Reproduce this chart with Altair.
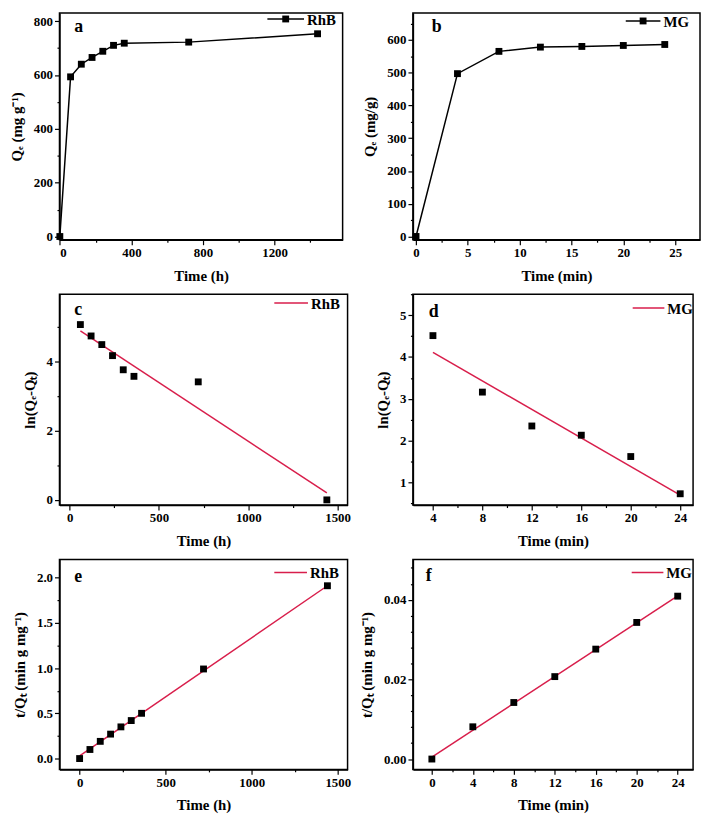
import altair as alt
import pandas as pd
import numpy as np

FONT = "Liberation Serif"
RED = "#d81e4b"

# ---------------- data ----------------
a_t = [0, 60, 120, 180, 240, 300, 360, 720, 1440]
a_q = [0, 593, 640, 665, 688, 710, 718, 722, 753]

b_t = [0, 4, 8, 12, 16, 20, 24]
b_q = [0, 497, 565, 578, 580, 583, 586]

c_t = [60, 120, 180, 240, 300, 360, 720, 1440]
c_v = [5.08, 4.75, 4.50, 4.18, 3.77, 3.58, 3.42, 0.0]
c_fit_t = [60, 1440]
c_fit_v = [4.90, 0.20]

d_t = [4, 8, 12, 16, 20, 24]
d_v = [4.51, 3.16, 2.35, 2.13, 1.62, 0.73]
d_fit_t = [4, 24]
d_fit_v = [4.11, 0.70]

e_t = [0, 60, 120, 180, 240, 300, 360, 720, 1440]
e_v = [0.0, 0.10, 0.19, 0.27, 0.35, 0.42, 0.50, 0.99, 1.91]
e_fit_t = [0, 1440]
e_fit_v = [0.03, 1.91]

f_t = [0, 4, 8, 12, 16, 20, 24]
f_v = [0.0, 0.0081, 0.0142, 0.0207, 0.0276, 0.0343, 0.0409]
f_fit_t = [0, 24]
f_fit_v = [0.0005, 0.0410]

labels_panel = ["a", "b", "c", "d", "e", "f"]
series_names = ["RhB", "MG", "RhB", "MG", "RhB", "MG"]


def ticks(lo, hi, major, minor, fmt, title, **kw):
    n0 = int(np.ceil(lo / minor - 1e-9))
    n1 = int(np.floor(hi / minor + 1e-9))
    vals = [round(i * minor, 6) for i in range(n0, n1 + 1)]
    test = f"abs(datum.value/{major} - round(datum.value/{major})) < 1e-6"
    return alt.Axis(
        title=title,
        values=vals,
        format=fmt,
        labelExpr=f"({test}) ? datum.label : ''",
        tickSize={"condition": {"test": test, "value": 5}, "value": 2.5},
        **kw,
    )


def one():
    return pd.DataFrame({"k": [0]})


def panel(letter, name, xs, ys, xdom, ydom, xax, yax, w, h,
          fit_x=None, fit_y=None, connect=False,
          letter_pos=(15, 14), leg=(215, 250, 8)):
    df = pd.DataFrame({"x": xs, "y": ys})
    X = alt.X("x:Q", scale=alt.Scale(domain=xdom, nice=False, zero=False), axis=xax)
    Y = alt.Y("y:Q", scale=alt.Scale(domain=ydom, nice=False, zero=False), axis=yax)
    layers = []
    if connect:
        layers.append(alt.Chart(df).mark_line(color="black", strokeWidth=1.5).encode(x=X, y=Y))
    else:
        fdf = pd.DataFrame({"x": fit_x, "y": fit_y})
        layers.append(alt.Chart(fdf).mark_line(color=RED, strokeWidth=1.5).encode(x=X, y=Y))
    layers.append(alt.Chart(df).mark_square(color="black", size=48, opacity=1).encode(x=X, y=Y))

    lx1, lx2, ly = leg
    lc = "black" if connect else RED
    layers.append(alt.Chart(one()).mark_rule(color=lc, strokeWidth=1.5).encode(
        x=alt.value(lx1), x2=alt.value(lx2), y=alt.value(ly)))
    if connect:
        layers.append(alt.Chart(one()).mark_square(color="black", size=48, opacity=1).encode(
            x=alt.value((lx1 + lx2) / 2), y=alt.value(ly)))
    layers.append(alt.Chart(pd.DataFrame({"t": [name]})).mark_text(
        font=FONT, fontWeight="bold", fontSize=15, align="left", baseline="middle", color="black"
    ).encode(x=alt.value(lx2 + 3), y=alt.value(ly + 1), text="t:N"))
    layers.append(alt.Chart(pd.DataFrame({"t": [letter]})).mark_text(
        font=FONT, fontWeight="bold", fontSize=18, align="left", baseline="middle", color="black"
    ).encode(x=alt.value(letter_pos[0]), y=alt.value(letter_pos[1]), text="t:N"))
    return alt.layer(*layers).properties(width=w, height=h)


ax_common = dict(titlePadding=9)

pa = panel("a", series_names[0], a_t, a_q, [-2, 1580], [-12, 830],
           ticks(-2, 1580, 400, 200, "d", "Time (h)", **ax_common),
           ticks(-12, 830, 200, 100, "d", "Qₑ (mg g⁻¹)", **ax_common),
           286, 229, connect=True, letter_pos=(15, 14), leg=(210, 247, 6))

pb = panel("b", series_names[1], b_t, b_q, [-0.3, 27.4], [-10, 682],
           ticks(-0.3, 27.4, 5, 2.5, "d", "Time (min)", **ax_common),
           ticks(-10, 682, 100, 50, "d", "Qₑ (mg/g)", **ax_common),
           290, 229, connect=True, letter_pos=(19, 14), leg=(215, 250, 8))

pc = panel("c", series_names[2], c_t, c_v, [-57, 1556], [-0.15, 5.96],
           ticks(-57, 1556, 500, 250, "d", "Time (h)", **ax_common),
           ticks(-0.15, 5.96, 2, 1, "d", "ln(Qₑ-Qₜ)", **ax_common),
           291, 213, fit_x=c_fit_t, fit_y=c_fit_v, letter_pos=(15, 16), leg=(217, 251, 9))

pd_ = panel("d", series_names[3], d_t, d_v, [2.38, 25.04], [0.46, 5.5],
            ticks(2.38, 25.04, 4, 2, "d", "Time (min)", **ax_common),
            ticks(0.46, 5.5, 1, 0.5, ".0f", "ln(Qₑ-Qₜ)", **ax_common),
            283, 213, fit_x=d_fit_t, fit_y=d_fit_v, letter_pos=(16, 18), leg=(222, 254, 14))

pe = panel("e", series_names[4], e_t, e_v, [-117, 1557], [-0.12, 2.2],
           ticks(-117, 1557, 500, 250, "d", "Time (h)", **ax_common),
           ticks(-0.12, 2.2, 0.5, 0.25, ".1f", "t/Qₜ (min g mg⁻¹)", **ax_common),
           291, 212, fit_x=e_fit_t, fit_y=e_fit_v, letter_pos=(15, 18), leg=(217, 250, 13))

pf = panel("f", series_names[5], f_t, f_v, [-1.85, 25.5], [-0.0026, 0.0501],
           ticks(-1.85, 25.5, 4, 2, "d", "Time (min)", **ax_common),
           ticks(-0.0026, 0.0501, 0.02, 0.004, ".2f", "t/Qₜ (min g mg⁻¹)", **ax_common),
           283, 212, fit_x=f_fit_t, fit_y=f_fit_v, letter_pos=(13, 17), leg=(221, 253, 13))

chart = alt.concat(
    pa, pb, pc, pd_, pe, pf, columns=2,
    spacing={"row": 55, "column": 66},
    bounds="flush", align="each",
).properties(
    padding=0, background="white"
).configure_view(
    stroke="black", strokeWidth=1.5
).configure_axis(
    labelFont=FONT, labelFontWeight="bold", labelFontSize=13, labelColor="black",
    titleFont=FONT, titleFontWeight="bold", titleFontSize=15, titleColor="black",
    tickColor="black", tickWidth=1.2, domainColor="black", domainWidth=1.5,
    grid=False, labelPadding=2,
)

chart.save("out.html", embed_options={"renderer": "svg", "actions": False})
